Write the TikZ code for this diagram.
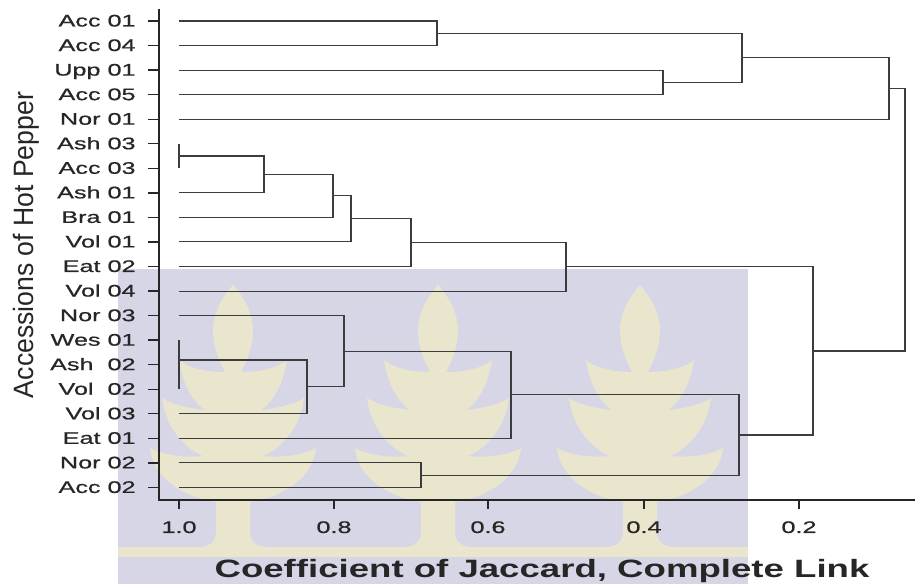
\documentclass[tikz,border=0pt]{standalone}
\usepackage{fontspec}
\setmainfont{Liberation Sans}
\newfontfamily\lblfont{Liberation Sans}[FakeBold=0.6]
\definecolor{wmback}{RGB}{214,214,230}
\definecolor{wmleaf}{RGB}{233,230,205}
\definecolor{branchgray}{RGB}{60,60,60}
\begin{document}
\begin{tikzpicture}[x=0.75pt, y=-0.75pt,
	branch/.style={draw=branchgray, line width=0.8pt},
	axisline/.style={draw=black!85, line width=1pt},
	leaflabel/.style={anchor=base east, inner sep=0pt, xscale=1.5, text=black!85,
		font=\lblfont\fontsize{12.6}{14}\selectfont},
	ticklabel/.style={anchor=base, inner sep=0pt, xscale=1.5, text=black!85,
		font=\lblfont\fontsize{12.6}{14}\selectfont}]
			
	% 1. Khung hình
	\useasboundingbox (0,0) rectangle (915,584);
	
	% 2. Nền mờ (logo)
	\fill[wmback] (118,269) rectangle (748,584);
	\foreach \cx in {233,438,640}
	\foreach \s in {1,-1}
	\fill[wmleaf, shift={(\cx,0)}, xscale=\s]
	(0,285) .. controls (12,298) and (20,315) .. (20,330)
	.. controls (20,348) and (13,362) .. (8,372)
	.. controls (22,372) and (42,370) .. (54,360)
	.. controls (50,385) and (40,402) .. (28,410)
	.. controls (45,408) and (60,405) .. (71,398)
	.. controls (68,425) and (50,448) .. (30,456)
	.. controls (50,458) and (70,455) .. (83,448)
	.. controls (80,478) and (50,497) .. (17,502)
	-- (17,532) .. controls (17,542) and (24,547) .. (34,547)
	-- (0,547) -- cycle;
	\fill[wmleaf] (118,547) rectangle (748,557);
	
	% 3. Hệ trục
	\draw[axisline] (159,9) -- (159,500) -- (915,500);
	\foreach \v/\px in {1.0/179, 0.8/334, 0.6/488, 0.4/644, 0.2/799} {
		\draw[axisline] (\px,500) -- (\px,509);
		\node[ticklabel] (t\px) at (\px,533) {\v};
	}
	
	% 4. Các mẫu giống
	\foreach \lab [count=\i] in {Acc 01, Acc 04, Upp 01, Acc 05, Nor 01, Ash 03,
		Acc 03, Ash 01, Bra 01, Vol 01, Eat 02, Vol 04, Nor 03, Wes 01, Ash~~02,
		Vol~~02, Vol 03, Eat 01, Nor 02, Acc 02} {
		\pgfmathsetmacro\yy{21+24.55*(\i-1)}
		\coordinate (L\i) at (179,\yy);
		\draw[axisline] (148,\yy) -- (159,\yy);
		\node[leaflabel] (n\i) at (136,\yy+5.5) {\lab};
	}
	
	% 5. Các điểm nối
	\coordinate (a1) at (437,33.3);
	\coordinate (a2) at (663,82.4);
	\coordinate (a3) at (742,57.8);
	\coordinate (a4) at (889,88.5);
	\coordinate (b1) at (179,156.0);
	\coordinate (b2) at (264,174.4);
	\coordinate (b3) at (333,195.9);
	\coordinate (b4) at (351,218.9);
	\coordinate (b5) at (411,242.7);
	\coordinate (b6) at (566,266.9);
	\coordinate (c1) at (179,360);
	\coordinate (c2) at (307,386.9);
	\coordinate (c3) at (344,351.2);
	\coordinate (c4) at (511,394.8);
	\coordinate (c5) at (421,475.2);
	\coordinate (c6) at (739,435.0);
	\coordinate (c7) at (813,351.0);
	\coordinate (r) at (905,219.7);
	
	% 6. Cây phân nhóm
	\draw[branch] (L1) -| (a1) |- (L2);
	\draw[branch] (L3) -| (a2) |- (L4);
	\draw[branch] (a1) -| (a3) |- (a2);
	\draw[branch] (a3) -| (a4) |- (L5);
	\draw[branch] (L6) -- (L7);
	\draw[branch] (b1) -| (b2) |- (L8);
	\draw[branch] (b2) -| (b3) |- (L9);
	\draw[branch] (b3) -| (b4) |- (L10);
	\draw[branch] (b4) -| (b5) |- (L11);
	\draw[branch] (b5) -| (b6) |- (L12);
	\draw[branch] (L14) -- (L16);
	\draw[branch] (c1) -| (c2) |- (L17);
	\draw[branch] (L13) -| (c3) |- (c2);
	\draw[branch] (c3) -| (c4) |- (L18);
	\draw[branch] (L19) -| (c5) |- (L20);
	\draw[branch] (c4) -| (c6) |- (c5);
	\draw[branch] (b6) -| (c7) |- (c6);
	\draw[branch] (a4) -| (r) |- (c7);
	
	% 7. Tên trục
	\node[anchor=base, inner sep=0pt, xscale=1.46, text=black!85,
		font=\bfseries\fontsize{18.8}{22}\selectfont] (xtitle) at (542,578)
		{Coefficient of Jaccard, Complete Link};
	\node[anchor=base, inner sep=0pt, rotate=90, xscale=0.95, text=black!85,
		font=\fontsize{21}{25}\selectfont] (ytitle) at (33,245)
		{Accessions of Hot Pepper};
	
\end{tikzpicture}
\end{document}
